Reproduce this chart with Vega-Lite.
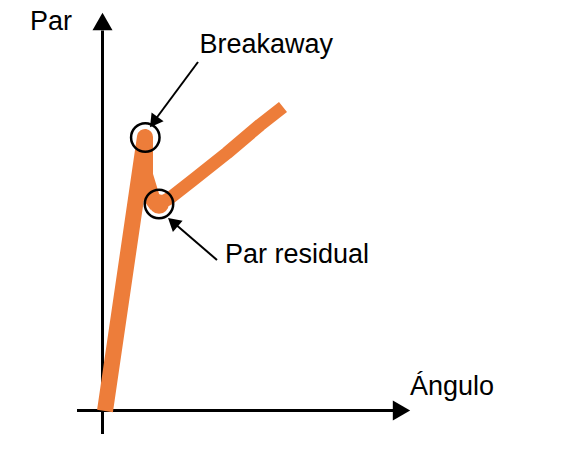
{
  "$schema": "https://vega.github.io/schema/vega-lite/v6.json",
  "width": 573,
  "height": 461,
  "padding": 0,
  "autosize": {"type": "fit", "contains": "padding"},
  "background": "white",
  "config": {"view": {"stroke": null}},
  "datasets": {
    "curva": [
      {"tramo": "subida", "orden": 1, "angulo": 0.5, "par": -0.1},
      {"tramo": "subida", "orden": 2, "angulo": 8.5, "par": 54.7},
      {"tramo": "subida", "orden": 3, "angulo": 8.5, "par": 47.1},
      {"tramo": "subida", "orden": 4, "angulo": 9.9, "par": 42.5},
      {"tramo": "subida", "orden": 5, "angulo": 10.9, "par": 41.1},
      {"tramo": "residual", "orden": 6, "angulo": 10.9, "par": 41.1},
      {"tramo": "residual", "orden": 7, "angulo": 13.5, "par": 42.5},
      {"tramo": "residual", "orden": 8, "angulo": 18.1, "par": 46.1},
      {"tramo": "residual", "orden": 9, "angulo": 24.9, "par": 51.5},
      {"tramo": "residual", "orden": 10, "angulo": 31.5, "par": 57.1},
      {"tramo": "residual", "orden": 11, "angulo": 36.1, "par": 60.7}
    ],
    "ejes": [
      {"eje": "Ángulo", "angulo": -5.1, "par": 0, "angulo2": 58.5, "par2": 0},
      {"eje": "Par", "angulo": 0, "par": -4.7, "angulo2": 0, "par2": 76}
    ],
    "flechas": [
      {"nota": "Breakaway", "angulo": 19.1, "par": 69.7, "angulo2": 10.5, "par2": 58.1},
      {"nota": "Par residual", "angulo": 22.9, "par": 30.1, "angulo2": 14.3, "par2": 37.5}
    ],
    "puntas": [
      {"tipo": "eje x", "angulo": 59.8, "par": 0},
      {"tipo": "eje y", "angulo": 0, "par": 77.8},
      {"tipo": "Breakaway", "angulo": 10.26, "par": 57.7},
      {"tipo": "Par residual", "angulo": 14.08, "par": 37.66}
    ],
    "circulos": [
      {"punto": "Breakaway", "angulo": 8.56, "par": 54.6},
      {"punto": "Par residual", "angulo": 11.3, "par": 41.3}
    ],
    "textos": [
      {"texto": "Par", "angulo": -14.5, "par": 76.1},
      {"texto": "Breakaway", "angulo": 19.4, "par": 71.5},
      {"texto": "Par residual", "angulo": 24.5, "par": 29.5},
      {"texto": "Ángulo", "angulo": 61.5, "par": 3.1}
    ]
  },
  "encoding": {
    "x": {
      "field": "angulo",
      "type": "quantitative",
      "scale": {"domain": [-20.5, 94.1], "nice": false, "zero": false},
      "axis": null
    },
    "y": {
      "field": "par",
      "type": "quantitative",
      "scale": {"domain": [-10.1, 82.1], "nice": false, "zero": false},
      "axis": null
    }
  },
  "layer": [
    {
      "data": {"name": "ejes"},
      "mark": {"type": "rule", "color": "black", "strokeWidth": 3},
      "encoding": {
        "x2": {"field": "angulo2"},
        "y2": {"field": "par2"}
      }
    },
    {
      "data": {"name": "puntas"},
      "transform": [{"filter": "datum.tipo === 'eje x'"}],
      "mark": {"type": "point", "shape": "triangle-right", "size": 400, "filled": true, "color": "black", "opacity": 1}
    },
    {
      "data": {"name": "puntas"},
      "transform": [{"filter": "datum.tipo === 'eje y'"}],
      "mark": {"type": "point", "shape": "triangle-up", "size": 400, "filled": true, "color": "black", "opacity": 1}
    },
    {
      "data": {"name": "curva"},
      "transform": [{"filter": "datum.tramo === 'subida'"}],
      "mark": {
        "type": "line",
        "color": "#ED7D3A",
        "strokeWidth": 16,
        "strokeCap": "butt",
        "strokeJoin": "round"
      },
      "encoding": {"order": {"field": "orden", "type": "quantitative"}}
    },
    {
      "data": {"name": "curva"},
      "transform": [{"filter": "datum.tramo === 'residual'"}],
      "mark": {
        "type": "line",
        "color": "#ED7D3A",
        "strokeWidth": 13,
        "strokeCap": "butt",
        "strokeJoin": "round"
      },
      "encoding": {"order": {"field": "orden", "type": "quantitative"}}
    },
    {
      "data": {"name": "circulos"},
      "transform": [{"filter": "datum.punto === 'Par residual'"}],
      "mark": {"type": "point", "shape": "circle", "size": 380, "filled": true, "color": "#ED7D3A", "opacity": 1}
    },
    {
      "data": {"name": "circulos"},
      "mark": {"type": "point", "shape": "circle", "size": 810, "filled": false, "color": "black", "strokeWidth": 2.5, "opacity": 1}
    },
    {
      "data": {"name": "flechas"},
      "mark": {"type": "rule", "color": "black", "strokeWidth": 2},
      "encoding": {
        "x2": {"field": "angulo2"},
        "y2": {"field": "par2"}
      }
    },
    {
      "data": {"name": "puntas"},
      "transform": [{"filter": "datum.tipo === 'Breakaway'"}],
      "mark": {"type": "point", "shape": "triangle-up", "size": 220, "angle": 216, "filled": true, "color": "black", "opacity": 1}
    },
    {
      "data": {"name": "puntas"},
      "transform": [{"filter": "datum.tipo === 'Par residual'"}],
      "mark": {"type": "point", "shape": "triangle-up", "size": 220, "angle": 311, "filled": true, "color": "black", "opacity": 1}
    },
    {
      "data": {"name": "textos"},
      "mark": {
        "type": "text",
        "align": "left",
        "baseline": "alphabetic",
        "font": "Liberation Sans",
        "fontSize": 27,
        "color": "black"
      },
      "encoding": {"text": {"field": "texto", "type": "nominal"}}
    }
  ]
}
